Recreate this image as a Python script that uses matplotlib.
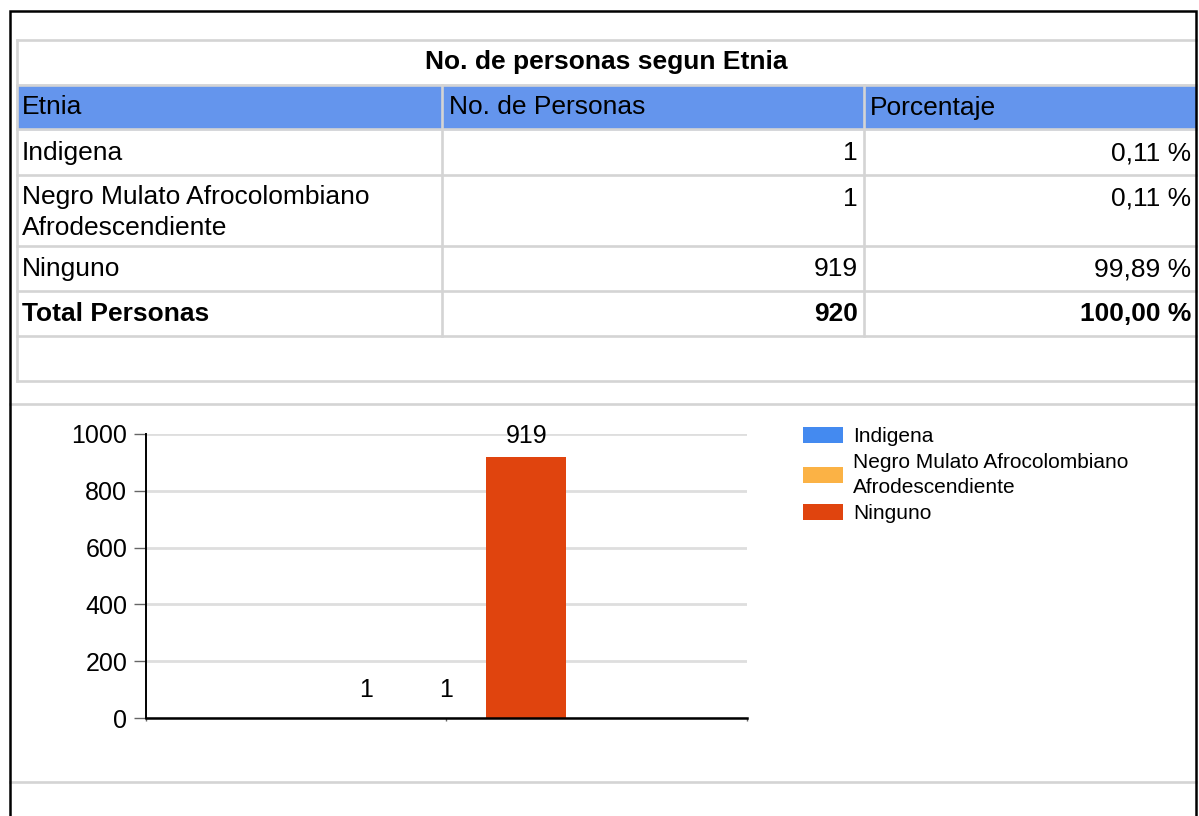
import numpy as np
import matplotlib
matplotlib.use("Agg")
import matplotlib.pyplot as plt
from matplotlib.patches import Rectangle

plt.rcParams['font.family'] = ['Liberation Sans', 'DejaVu Sans']

# data
titulo = "No. de personas segun Etnia"
encabezados = ["Etnia", "No. de Personas", "Porcentaje"]
etnias = ["Indigena", "Negro Mulato Afrocolombiano\nAfrodescendiente", "Ninguno"]
personas = [1, 1, 919]
porcentajes = ["0,11 %", "0,11 %", "99,89 %"]
total = 920
total_pct = "100,00 %"
colores = ["#448AF0", "#FBB245", "#E0440E"]

W, H = 1199, 816
fig = plt.figure(figsize=(W / 100, H / 100), dpi=100)

# background layer in pixel coordinates (page frame + table)
bg = fig.add_axes([0, 0, 1, 1])
bg.set_xlim(0, W)
bg.set_ylim(H, 0)
bg.axis("off")

grey = "#D4D4D4"
left, right = 17, 1196
cols = [17, 442, 864, 1196]
rows = [40, 84.5, 129, 175, 245.5, 290.5, 336, 380.5]

# header fill
bg.add_patch(Rectangle((left, rows[1]), right - left, rows[2] - rows[1],
                       color="#6495ED", zorder=1))
# table grid
for y in rows:
    bg.plot([left, right], [y, y], color=grey, lw=1.9, zorder=2)
bg.plot([left, left], [rows[0], rows[-1]], color=grey, lw=1.9, zorder=2)
for x in cols[1:3]:
    bg.plot([x, x], [rows[1], rows[6]], color=grey, lw=1.9, zorder=2)

# section dividers
for y in [404, 782]:
    bg.plot([10, 1196], [y, y], color=grey, lw=1.9, zorder=2)

# page frame
bg.plot([10, 10, 1196, 1196], [H, 11, 11, H], color="black", lw=1.8, zorder=3,
        solid_joinstyle="miter")

fs = 19
bg.text((left + right) / 2, 59, titulo, ha="center", va="center_baseline",
        fontsize=fs, fontweight="bold")
hx = [22, 449, 870]
for x, t in zip(hx, encabezados):
    bg.text(x, 105, t, ha="left", va="center_baseline", fontsize=fs)

for i, (e, n, p) in enumerate(zip(etnias, personas, porcentajes)):
    y = (rows[i + 2] + rows[i + 3]) / 2 - 1.5
    if "\n" in e:
        y = rows[i + 2] + 21
        bg.text(22, y - 11, e, ha="left", va="top", fontsize=fs, linespacing=1.37)
    else:
        bg.text(22, y, e, ha="left", va="center_baseline", fontsize=fs)
    bg.text(858, y, str(n), ha="right", va="center_baseline", fontsize=fs)
    bg.text(1191, y, p, ha="right", va="center_baseline", fontsize=fs)

y = (rows[5] + rows[6]) / 2 - 1.5
bg.text(22, y, "Total Personas", ha="left", va="center_baseline", fontsize=fs,
        fontweight="bold")
bg.text(858, y, str(total), ha="right", va="center_baseline", fontsize=fs,
        fontweight="bold")
bg.text(1191, y, total_pct, ha="right", va="center_baseline", fontsize=fs,
        fontweight="bold")

# column chart
ax = fig.add_axes([146 / W, (H - 718) / H, 601 / W, 284 / H])
ax.patch.set_alpha(0)
w = 80 / 601
pos = (np.arange(len(personas)) - 1) * w
bars = ax.bar(pos, personas, width=w, color=colores, zorder=3)
ymax = 1000
lift = 30 * ymax / 284  # label sits ~30px over the bar, clamped to the top
for b, v in zip(bars, personas):
    ax.text(b.get_x() + b.get_width() / 2, min(v + lift, ymax), str(v),
            ha="center", va="center_baseline", fontsize=18, zorder=5)

ax.set_xlim(-0.5, 0.5)
ax.set_ylim(0, ymax)
ax.set_yticks(np.arange(0, ymax + 1, 200))
ax.set_xticks([-0.5, 0, 0.5])
ax.set_xticklabels([])
ax.tick_params(axis="x", length=2.5, width=1, color="#666666")
ax.tick_params(axis="y", length=8.5, width=1, color="#666666", pad=5, labelsize=18)
ax.yaxis.grid(True, color="#DEDEDE", lw=2, zorder=0)
ax.set_axisbelow(True)
for s in ["top", "right"]:
    ax.spines[s].set_visible(False)
ax.spines["left"].set_linewidth(1.4)
ax.spines["bottom"].set_linewidth(1.8)
ax.spines["bottom"].set_zorder(4)

leg = ax.legend(handles=list(bars), labels=etnias, loc="upper left",
                bbox_to_anchor=(803 / W, 1 - 427 / H), bbox_transform=fig.transFigure,
                frameon=False, fontsize=15, borderpad=0, borderaxespad=0,
                handlelength=1.92, handleheight=0.82, handletextpad=0.5,
                labelspacing=0.3)
for t in leg.get_texts():
    t.set_linespacing(1.45)

fig.savefig("out.png", dpi=100)
